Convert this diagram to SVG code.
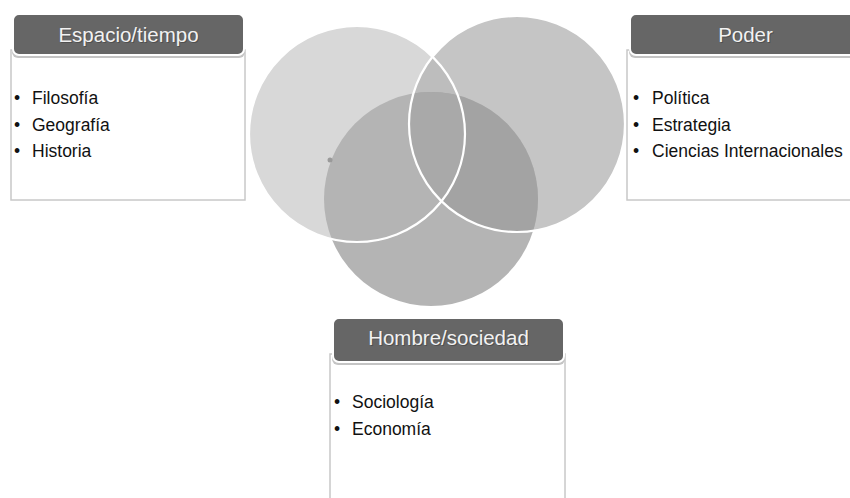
<svg xmlns="http://www.w3.org/2000/svg" width="850" height="498" viewBox="0 0 850 498">
  <style>
    .body { fill: #ffffff; stroke: #c8c8c8; stroke-width: 1.5; }
    .hshadow { fill: #c4c4c4; }
    .head { fill: #666666; stroke: #ffffff; stroke-width: 2; }
    .htxt { font-family: "Liberation Sans", Arial, sans-serif; font-size: 20.5px; fill: #f2f2f2; text-anchor: middle; }
    .hsh { font-family: "Liberation Sans", Arial, sans-serif; font-size: 20.5px; fill: #3a3a3a; text-anchor: middle; opacity: 0.5; }
    .item { font-family: "Liberation Sans", Arial, sans-serif; font-size: 17.5px; fill: #111111; }
  </style>
  <defs>
    <clipPath id="cL"><circle cx="357" cy="134" r="108"/></clipPath>
    <clipPath id="cR"><circle cx="517" cy="124" r="108"/></clipPath>
    <clipPath id="cB"><circle cx="431" cy="199" r="107"/></clipPath>
  </defs>

  <g id="venn">
    <circle cx="357" cy="134" r="108" fill="#d8d8d8"/>
    <circle cx="517" cy="124" r="108" fill="#c5c5c5"/>
    <circle cx="431" cy="199" r="107" fill="#b4b4b4"/>
    <circle cx="517" cy="124" r="108" fill="#bdbdbd" clip-path="url(#cL)"/>
    <circle cx="431" cy="199" r="107" fill="#a3a3a3" clip-path="url(#cR)"/>
    <g clip-path="url(#cL)">
      <circle cx="431" cy="199" r="107" fill="#a9a9a9" clip-path="url(#cR)"/>
    </g>
    <circle cx="357" cy="134" r="108" fill="none" stroke="#ffffff" stroke-width="2.2"/>
    <circle cx="517" cy="124" r="108" fill="none" stroke="#ffffff" stroke-width="2.2"/>
    <circle cx="330" cy="160" r="2.5" fill="#9a9a9a"/>
  </g>

  <g id="espacio">
    <rect class="body" x="11" y="50" width="234" height="150"/>
    <rect class="hshadow" x="12" y="16" width="233" height="42" rx="6"/>
    <rect class="head" x="13" y="14" width="231" height="41" rx="6"/>
    <text class="hsh" x="129.5" y="43">Espacio/tiempo</text>
    <text class="htxt" x="128.5" y="42">Espacio/tiempo</text>
    <text class="item" x="14" y="104">•</text><text class="item" x="32" y="104">Filosofía</text>
    <text class="item" x="14" y="130.5">•</text><text class="item" x="32" y="130.5">Geografía</text>
    <text class="item" x="14" y="157">•</text><text class="item" x="32" y="157">Historia</text>
  </g>

  <g id="poder">
    <rect class="body" x="627" y="50" width="240" height="150"/>
    <rect class="hshadow" x="629" y="16" width="233" height="42" rx="6"/>
    <rect class="head" x="630" y="14" width="231" height="41" rx="6"/>
    <text class="hsh" x="746.5" y="43">Poder</text>
    <text class="htxt" x="745.5" y="42">Poder</text>
    <text class="item" x="633" y="104">•</text><text class="item" x="652" y="104">Política</text>
    <text class="item" x="633" y="130.5">•</text><text class="item" x="652" y="130.5">Estrategia</text>
    <text class="item" x="633" y="157">•</text><text class="item" x="652" y="157">Ciencias Internacionales</text>
  </g>

  <g id="hombre">
    <rect class="body" x="330" y="354" width="235" height="160"/>
    <rect class="hshadow" x="332" y="320" width="233" height="45" rx="6"/>
    <rect class="head" x="333" y="318" width="231" height="44" rx="6"/>
    <text class="hsh" x="449.5" y="346">Hombre/sociedad</text>
    <text class="htxt" x="448.5" y="345">Hombre/sociedad</text>
    <text class="item" x="334" y="408">•</text><text class="item" x="352" y="408">Sociología</text>
    <text class="item" x="334" y="435">•</text><text class="item" x="352" y="435">Economía</text>
  </g>

  <g id="connectors"></g>
</svg>
